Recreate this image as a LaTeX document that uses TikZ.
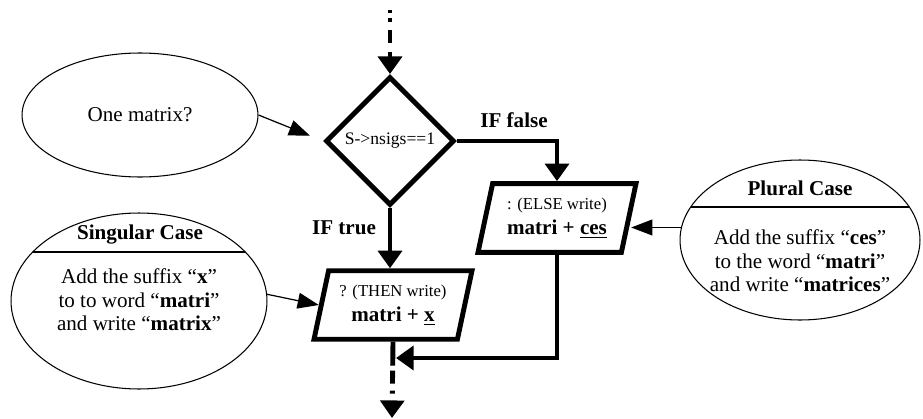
\documentclass[tikz,border=0pt]{standalone}
\usepackage{fontspec}
\setmainfont{Liberation Serif}
\usetikzlibrary{shapes.geometric,arrows.meta}

\begin{document}
\begin{tikzpicture}[x=0.02cm, y=-0.02cm,
    font=\fontsize{12}{13.4}\selectfont,
    flow/.style={line width=2.8pt, -{Triangle[length=10pt,width=13.5pt]}},
    note/.style={line width=0.7pt, -{Triangle[length=12pt,width=9pt]}},
    bubble/.style={draw, ellipse, line width=0.6pt, inner sep=0pt},
    io/.style={draw, trapezium, trapezium left angle=78, trapezium right angle=102,
        trapezium stretches body, line width=2.8pt, inner xsep=0pt, inner ysep=8pt,
        minimum width=3.16cm, align=center}]
    \useasboundingbox (0,0) rectangle (923,419);

    % the test and its two outputs
    \node[draw, diamond, line width=2.8pt, inner sep=0pt, minimum size=2.58cm,
        font=\fontsize{10}{12}\selectfont] (cond) at (390,141) {S->nsigs==1};
    \node[io] (else) at (557,218) {{\fontsize{9.5}{11}\selectfont : (ELSE write)}\\[1pt]\textbf{matri + \underline{ces}}};
    \node[io] (then) at (393,305) {{\fontsize{9.5}{11}\selectfont ? (THEN write)}\\[1pt]\textbf{matri + \underline{x}}};

    \coordinate (start) at (390,10);
    \coordinate (merge) at (396,358);
    \coordinate (stop) at (392,418);

    % comments around the flow
    \node[bubble, minimum width=4.72cm, minimum height=2.48cm] (one) at (140,115) {One matrix?};
    \node[bubble, minimum width=5.12cm, minimum height=3.52cm] (sing) at (139,301) {};
    \node[bubble, minimum width=4.8cm, minimum height=3.2cm] (plural) at (800,240) {};
    \begin{scope}
        \clip (sing.center) ellipse [x radius=128, y radius=88];
        \draw[line width=0.8pt] (0,252) -- (300,252);
    \end{scope}
    \begin{scope}
        \clip (plural.center) ellipse [x radius=120, y radius=80];
        \draw[line width=0.8pt] (660,207) -- (923,207);
    \end{scope}
    \node (singtitle) at (140,235) {\textbf{Singular Case}};
    \node[align=center] (singtext) at (139,300) {Add the suffix ``\textbf{x}''\\to to word ``\textbf{matri}''\\and write ``\textbf{matrix}''};
    \node (pluraltitle) at (800,188) {\textbf{Plural Case}};
    \node[align=center] (pluraltext) at (800,261) {Add the suffix ``\textbf{ces}''\\to the word ``\textbf{matri}''\\and write ``\textbf{matrices}''};

    % branch labels
    \node (iffalse) at (514,120) {\textbf{IF false}};
    \node (iftrue) at (344,228) {\textbf{IF true}};

    % control flow
    \draw[flow, dash pattern=on 1.7pt off 2.8pt on 2.3pt off 4.5pt on 7.4pt off 5.1pt on 30pt] (start) -- (cond.north);
    \draw[flow] (cond.east) -| (else);
    \draw[flow] (cond.south) -- (cond.south |- then.north);
    \draw[flow] (else) |- (merge);
    \draw[flow, dash pattern=on 13.6pt off 2.8pt on 7.4pt off 4pt on 1.7pt off 10pt] (then.south) -- (stop);

    % comment arrows
    \draw[note, shorten >=8pt] (one.east) -- (cond.west);
    \draw[note] (sing.3) -- (then.west);
    \draw[note] (plural.174) -- (plural.174 -| else.east);
\end{tikzpicture}
\end{document}
